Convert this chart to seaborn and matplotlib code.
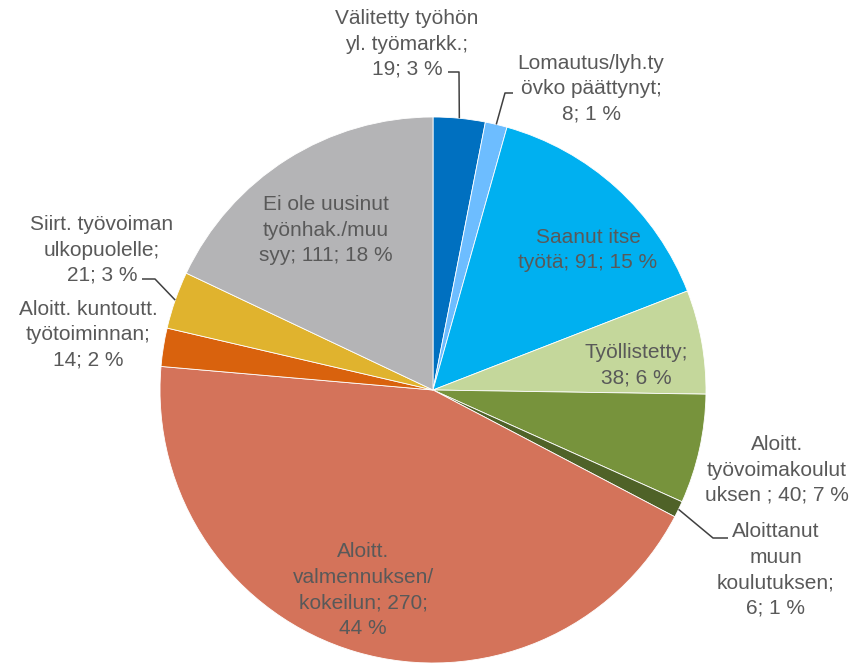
import numpy as np
import matplotlib
matplotlib.use("Agg")
import matplotlib.pyplot as plt
import seaborn as sns

# data
categories = [
    "Välitetty työhön\nyl. työmarkk.",
    "Lomautus/lyh.ty\növko päättynyt",
    "Saanut itse\ntyötä",
    "Työllistetty",
    "Aloitt.\ntyövoimakoulut\nuksen ",
    "Aloittanut\nmuun\nkoulutuksen",
    "Aloitt.\nvalmennuksen/\nkokeilun",
    "Aloitt. kuntoutt.\ntyötoiminnan",
    "Siirt. työvoiman\nulkopuolelle",
    "Ei ole uusinut\ntyönhak./muu\nsyy",
]
counts = [19, 8, 91, 38, 40, 6, 270, 14, 21, 111]
percents = [3, 1, 15, 6, 7, 1, 44, 2, 3, 18]
label_texts = [
    "Välitetty työhön\nyl. työmarkk.;\n19; 3 %",
    "Lomautus/lyh.ty\növko päättynyt;\n8; 1 %",
    "Saanut itse\ntyötä; 91; 15 %",
    "Työllistetty;\n38; 6 %",
    "Aloitt.\ntyövoimakoulut\nuksen ; 40; 7 %",
    "Aloittanut\nmuun\nkoulutuksen;\n6; 1 %",
    "Aloitt.\nvalmennuksen/\nkokeilun; 270;\n44 %",
    "Aloitt. kuntoutt.\ntyötoiminnan;\n14; 2 %",
    "Siirt. työvoiman\nulkopuolelle;\n21; 3 %",
    "Ei ole uusinut\ntyönhak./muu\nsyy; 111; 18 %",
]

colors = sns.color_palette(["#0070C0", "#6DBDFF", "#00B0F0", "#C4D79B", "#77933C",
                            "#4F6228", "#D4735A", "#D9620D", "#E0B32E", "#B4B4B6"])

sns.set_theme(style="white")
plt.rcParams['font.family'] = ['Liberation Sans', 'DejaVu Sans']

W, H = 863, 664
CX, CY, R = 433, 390, 273  # pie centre / radius in pixels


def px(x, y):
    return (x - CX) / R, (CY - y) / R


fig = plt.figure(figsize=(W / 100, H / 100), dpi=100)
ax = fig.add_axes([0, 0, 1, 1])
wedges, _ = ax.pie(counts, colors=colors, startangle=90, counterclock=False,
                   radius=1, wedgeprops=dict(edgecolor="white", linewidth=0.6))
ax.set_xlim(-CX / R, (W - CX) / R)
ax.set_ylim(-(H - CY) / R, CY / R)
ax.set_aspect("equal")
ax.axis("off")

# label centres (pixels)
label_pos = [(407, 44), (591, 89), (588, 250), (636, 365), (777, 470),
             (776, 570), (363, 590), (88, 335), (102, 250), (326, 230)]
txt_color = "#595959"
for t, (x, y) in zip(label_texts, label_pos):
    ax.text(*px(x, y), t, ha="center", va="center", fontsize=15,
            color=txt_color, linespacing=1.43)

# leader lines: elbow points then wedge mid point on rim
leaders = {0: [(448, 72), (459, 72)], 1: [(513, 93), (505, 93)],
           5: [(728, 538), (713, 538)], 8: [(142, 279), (155, 279)]}
for i, pts in leaders.items():
    w = wedges[i]
    mid = np.deg2rad((w.theta1 + w.theta2) / 2)
    xs = [px(*p)[0] for p in pts] + [np.cos(mid)]
    ys = [px(*p)[1] for p in pts] + [np.sin(mid)]
    ax.plot(xs, ys, color="#404040", lw=1.1, solid_capstyle="butt")

fig.savefig("out.png", dpi=100)
